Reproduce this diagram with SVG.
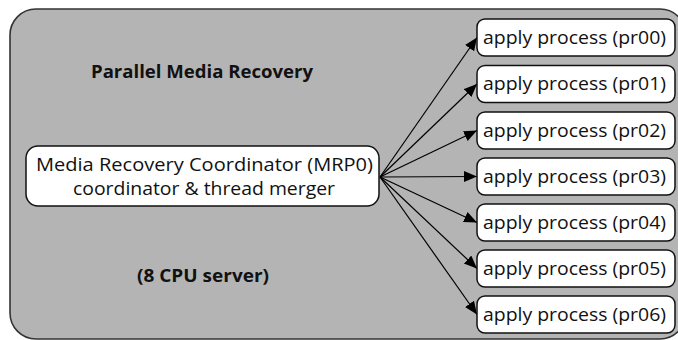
<svg xmlns="http://www.w3.org/2000/svg" width="678" height="340" viewBox="0 0 678 340">
<style>
.t{font-family:"Open Sans","Noto Sans",sans-serif;font-size:18px;fill:#111;text-anchor:middle}
.b{font-family:"Open Sans","Noto Sans",sans-serif;font-size:17px;font-weight:bold;fill:#111;text-anchor:middle}
.box{fill:#fff;stroke:#111;stroke-width:1.5}
.c{stroke:#000;stroke-width:1.2;fill:none;marker-end:url(#ah)}
</style>
<defs>
<marker id="ah" markerWidth="14" markerHeight="12" refX="13" refY="5.5" orient="auto" markerUnits="userSpaceOnUse">
<path d="M0,0 L13,5.5 L0,11 Z" fill="#000"/>
</marker>
</defs>
<g id="server">
<rect x="10" y="9" width="676" height="330" rx="26" fill="#b4b4b4" stroke="#333" stroke-width="1.6"/>
<text class="b" x="202" y="78" textLength="222" lengthAdjust="spacingAndGlyphs">Parallel Media Recovery</text>
<text class="b" x="203" y="282" textLength="132" lengthAdjust="spacingAndGlyphs">(8 CPU server)</text>
</g>
<g id="connectors">
<line class="c" x1="380" y1="177" x2="477" y2="37.5"/>
<line class="c" x1="380" y1="177" x2="477" y2="84"/>
<line class="c" x1="380" y1="177" x2="477" y2="130.5"/>
<line class="c" x1="380" y1="177" x2="477" y2="176.5"/>
<line class="c" x1="380" y1="177" x2="477" y2="222.5"/>
<line class="c" x1="380" y1="177" x2="477" y2="268.5"/>
<line class="c" x1="380" y1="177" x2="477" y2="314.5"/>
</g>
<g id="mrp0">
<rect class="box" x="26" y="146" width="353" height="60" rx="12"/>
<text class="t" x="204.5" y="171" textLength="337" lengthAdjust="spacingAndGlyphs">Media Recovery Coordinator (MRP0)</text>
<text class="t" x="204" y="195" textLength="262" lengthAdjust="spacingAndGlyphs">coordinator &amp; thread merger</text>
</g>
<g id="pr00"><rect class="box" x="477" y="19" width="198" height="37" rx="8"/><text class="t" x="574.5" y="43.5" textLength="183" lengthAdjust="spacingAndGlyphs">apply process (pr00)</text></g>
<g id="pr01"><rect class="box" x="477" y="65.5" width="198" height="37" rx="8"/><text class="t" x="574.5" y="90" textLength="183" lengthAdjust="spacingAndGlyphs">apply process (pr01)</text></g>
<g id="pr02"><rect class="box" x="477" y="112" width="198" height="37" rx="8"/><text class="t" x="574.5" y="136.5" textLength="183" lengthAdjust="spacingAndGlyphs">apply process (pr02)</text></g>
<g id="pr03"><rect class="box" x="477" y="158" width="198" height="37" rx="8"/><text class="t" x="574.5" y="182.5" textLength="183" lengthAdjust="spacingAndGlyphs">apply process (pr03)</text></g>
<g id="pr04"><rect class="box" x="477" y="204" width="198" height="37" rx="8"/><text class="t" x="574.5" y="228.5" textLength="183" lengthAdjust="spacingAndGlyphs">apply process (pr04)</text></g>
<g id="pr05"><rect class="box" x="477" y="250" width="198" height="37" rx="8"/><text class="t" x="574.5" y="274.5" textLength="183" lengthAdjust="spacingAndGlyphs">apply process (pr05)</text></g>
<g id="pr06"><rect class="box" x="477" y="296" width="198" height="37" rx="8"/><text class="t" x="574.5" y="320.5" textLength="183" lengthAdjust="spacingAndGlyphs">apply process (pr06)</text></g>
</svg>
